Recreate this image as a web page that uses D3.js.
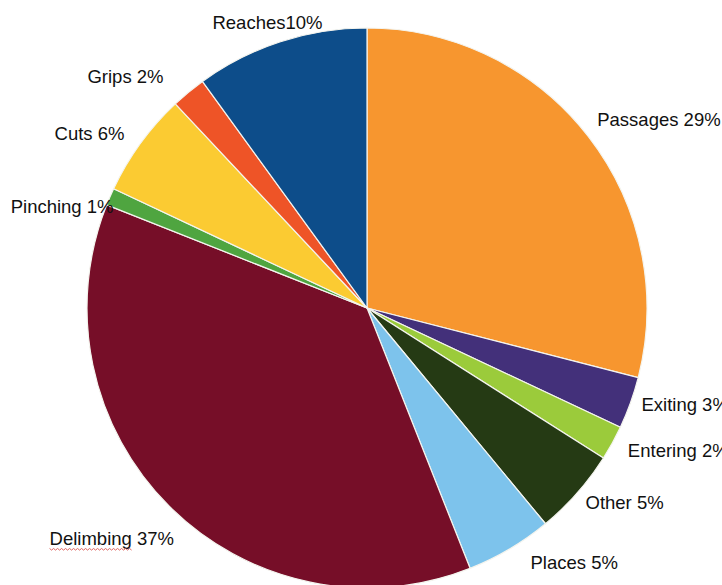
<!DOCTYPE html>
<html>
<head>
<meta charset="utf-8">
<script src="https://cdn.jsdelivr.net/npm/d3@7"></script>
<style>
  html, body { margin: 0; padding: 0; background: #ffffff; }
  svg { display: block; }
  text { font-family: "Liberation Sans", Arial, sans-serif; font-size: 18.5px; fill: #111; }
</style>
</head>
<body>
<svg id="chart" width="722" height="585"></svg>
<script>
// Share of activities, in percent, clockwise from 12 o'clock
const categories = ["Passages", "Exiting", "Entering", "Other", "Places",
                    "Delimbing", "Pinching", "Cuts", "Grips", "Reaches"];
const shares = [29, 3, 2, 5, 5, 37, 1, 6, 2, 10];
const labelTexts = ["Passages 29%", "Exiting 3%", "Entering 2%", "Other 5%", "Places 5%",
                    "Delimbing 37%", "Pinching 1%", "Cuts 6%", "Grips 2%", "Reaches10%"];
const sliceColors = ["#f7962f", "#43307a", "#9bcb3b", "#253a14", "#7dc3ec",
                     "#760e28", "#4fa540", "#fbcb32", "#ee5427", "#0d4d8a"];

// Label placement: nudge from the slice's mid-angle point on the rim
const labelLayout = [
  { anchor: "start",  dx: 9,   dy: -10 },
  { anchor: "start",  dx: 11,  dy: 8 },
  { anchor: "start",  dx: 15.5,dy: 14 },
  { anchor: "start",  dx: 8.5, dy: 16 },
  { anchor: "start",  dx: 21,  dy: 20 },
  { anchor: "end",    dx: 5,   dy: 39.5 },
  { anchor: "end",    dx: 3.5, dy: 16 },
  { anchor: "end",    dx: -16, dy: -3.4 },
  { anchor: "end",    dx: -25, dy: -9 },
  { anchor: "middle", dx: -13, dy: -12.7 }
];

const cx = 367, cy = 308, radius = 280;

const svg = d3.select("#chart");
const g = svg.append("g").attr("transform", `translate(${cx},${cy})`);

const rows = categories.map((c, i) => ({ name: c, value: shares[i], i }));

const pie = d3.pie().value(d => d.value).sort(null);
const arcs = pie(rows);

const arc = d3.arc().innerRadius(0).outerRadius(radius);
const rim = d3.arc().innerRadius(radius).outerRadius(radius);

g.selectAll("path.slice")
  .data(arcs)
  .join("path")
  .attr("class", "slice")
  .attr("d", arc)
  .attr("fill", d => sliceColors[d.data.i])
  .attr("stroke", "#f4f4ee")
  .attr("stroke-width", 1.2)
  .attr("stroke-linejoin", "round");

const labels = g.selectAll("text.lbl")
  .data(arcs)
  .join("text")
  .attr("class", "lbl")
  .attr("text-anchor", d => labelLayout[d.data.i].anchor)
  .attr("x", d => rim.centroid(d)[0] + labelLayout[d.data.i].dx)
  .attr("y", d => rim.centroid(d)[1] + labelLayout[d.data.i].dy)
  .text(d => labelTexts[d.data.i]);

// Wavy red underline beneath the word "Delimbing"
labels.filter(d => d.data.name === "Delimbing").each(function (d) {
  const node = this;
  const box = node.getBBox();
  const wordLen = node.getSubStringLength(0, "Delimbing".length);
  const x0 = box.x, y0 = +node.getAttribute("y") + 3;
  const pts = [];
  for (let x = 0; x <= wordLen; x += 2) {
    pts.push([x0 + x, y0 + ((x / 2) % 2 === 0 ? 0 : 1.6)]);
  }
  g.append("path")
    .attr("d", d3.line()(pts))
    .attr("fill", "none")
    .attr("stroke", "#d9534f")
    .attr("stroke-width", 0.9);
});
</script>
</body>
</html>
